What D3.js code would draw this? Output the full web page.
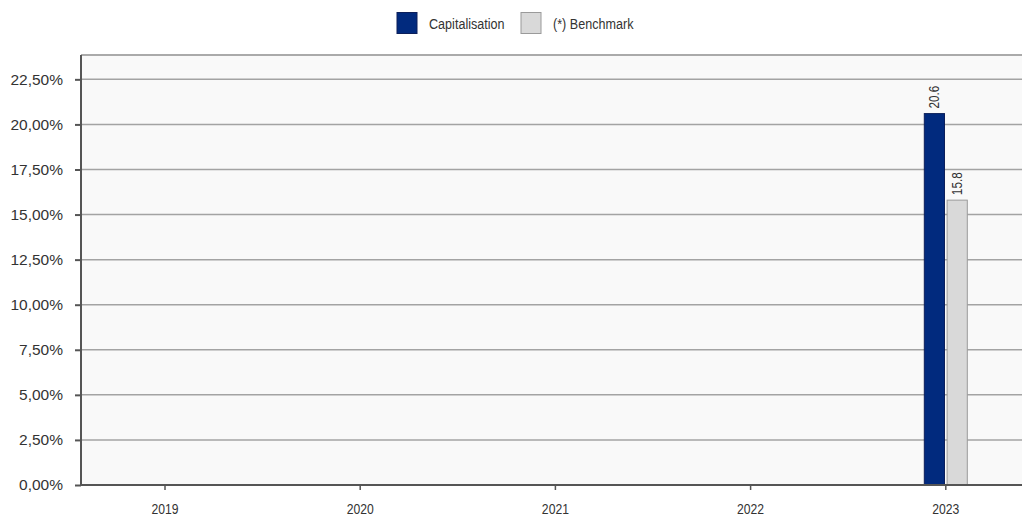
<!DOCTYPE html>
<html>
<head>
<meta charset="utf-8">
<script src="https://cdn.jsdelivr.net/npm/d3@7"></script>
<style>
  html, body { margin: 0; padding: 0; background: #ffffff; }
  svg { display: block; }
  text { font-family: "Liberation Sans", Arial, sans-serif; fill: #333; }
</style>
</head>
<body>
<div id="chart"></div>
<script>
// Yearly performance, in percent
const years = ["2019", "2020", "2021", "2022", "2023"];
const seriesNames = ["Capitalisation", "(*) Benchmark"];
const capitalisation = [0, 0, 0, 0, 20.6];
const benchmark = [0, 0, 0, 0, 15.8];
const yTicks = [0, 2.5, 5, 7.5, 10, 12.5, 15, 17.5, 20, 22.5];

const W = 1022, H = 517;
const plot = { left: 81, top: 55, right: 1022, bottom: 485 };
const colors = ["#012a7e", "#d9d9d9"];
const strokes = ["#0c1f5a", "#9a9a9a"];
const narrow = 0.84; // horizontal squeeze for condensed-looking labels

const svg = d3.select("#chart").append("svg").attr("width", W).attr("height", H);

const y = d3.scaleLinear().domain([0, 23.85]).range([plot.bottom, plot.top]);
const x = d3.scaleBand().domain(years).range([67.4, 1043.4]);
const inner = d3.scaleBand().domain(seriesNames).range([-21.5, 21.5]).paddingInner(0.115);

// plot background
svg.append("rect")
  .attr("x", plot.left).attr("y", plot.top)
  .attr("width", plot.right - plot.left).attr("height", plot.bottom - plot.top)
  .attr("fill", "#f9f9f9");

// top border
svg.append("line")
  .attr("x1", plot.left).attr("x2", plot.right)
  .attr("y1", plot.top).attr("y2", plot.top)
  .attr("stroke", "#aaaaaa").attr("stroke-width", 2);

// horizontal gridlines
svg.append("g").selectAll("line").data(yTicks.filter(d => d > 0)).join("line")
  .attr("x1", plot.left).attr("x2", plot.right)
  .attr("y1", d => y(d)).attr("y2", d => y(d))
  .attr("stroke", "#a3a3a3").attr("stroke-width", 1.5);

// bars
const data = years.map((yr, i) => ({ year: yr, values: [capitalisation[i], benchmark[i]] }));
const groups = svg.append("g").selectAll("g").data(data).join("g")
  .attr("transform", d => `translate(${x(d.year) + x.bandwidth() / 2},0)`);

groups.selectAll("rect").data(d => d.values.map((v, k) => ({ v, k }))).join("rect")
  .attr("x", d => inner(seriesNames[d.k]))
  .attr("width", inner.bandwidth())
  .attr("y", d => y(d.v))
  .attr("height", d => y(0) - y(d.v))
  .attr("fill", d => colors[d.k])
  .attr("stroke", d => strokes[d.k])
  .attr("stroke-width", 1);

// value labels, rotated, above non-zero bars
groups.selectAll("text.val").data(d => d.values.map((v, k) => ({ v, k })).filter(e => e.v !== 0)).join("text")
  .attr("class", "val")
  .attr("transform", d => `translate(${inner(seriesNames[d.k]) + inner.bandwidth() / 2 + 4.5},${y(d.v) - 5}) rotate(-90) scale(${narrow},1)`)
  .attr("font-size", 14)
  .attr("fill", "#222")
  .text(d => d.v.toFixed(1));

// y axis
const yAxis = d3.axisLeft(y).tickValues(yTicks)
  .tickFormat(d => d.toFixed(2).replace(".", ",") + "%")
  .tickSize(6).tickPadding(12);
const gy = svg.append("g").attr("transform", `translate(${plot.left},0)`).call(yAxis);
gy.select(".domain").attr("stroke", "#555").attr("stroke-width", 2).attr("d", `M0,${plot.top}V${plot.bottom}`);
gy.selectAll(".tick line").attr("stroke", "#555").attr("stroke-width", 2);
gy.selectAll(".tick text").attr("font-family", "'Liberation Sans', Arial, sans-serif")
  .attr("font-size", 15.5).attr("fill", "#333");

// x axis
const xAxis = d3.axisBottom(x).tickSize(5).tickPadding(14).tickSizeOuter(0);
const gx = svg.append("g").attr("transform", `translate(0,${plot.bottom})`).call(xAxis);
gx.select(".domain").attr("stroke", "#555").attr("stroke-width", 2).attr("d", `M${plot.left},0H${plot.right}`);
gx.selectAll(".tick line").attr("stroke", "#555").attr("stroke-width", 1.5);
gx.selectAll(".tick text").attr("font-size", 14.5).attr("fill", "#222")
  .attr("transform", `scale(${narrow},1)`);

// legend
const legend = svg.append("g");
const legendX = [397, 521];
seriesNames.forEach((name, k) => {
  legend.append("rect")
    .attr("x", legendX[k]).attr("y", 12.5).attr("width", 20).attr("height", 21)
    .attr("fill", colors[k]).attr("stroke", strokes[k]).attr("stroke-width", 1);
  legend.append("text")
    .attr("transform", `translate(${legendX[k] + 32},28.5) scale(${narrow},1)`)
    .attr("font-size", 15).attr("fill", "#222")
    .text(name);
});
</script>
</body>
</html>
